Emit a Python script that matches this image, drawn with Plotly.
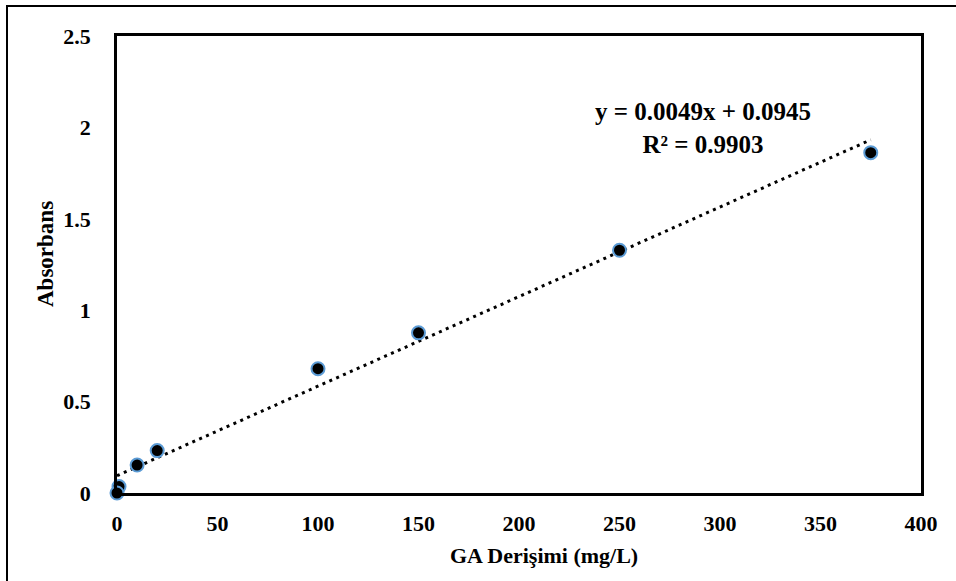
import numpy as np
import plotly.graph_objects as go

# Data
conc = [0, 1, 10, 20, 100, 150, 250, 375]
absorb = [0.0, 0.035, 0.153, 0.232, 0.680, 0.876, 1.328, 1.862]
slope, intercept, r2 = 0.0049, 0.0945, 0.9903
x_ticks = [0, 50, 100, 150, 200, 250, 300, 350, 400]
y_ticks = [0, 0.5, 1, 1.5, 2, 2.5]
y_tick_text = ["0", "0.5", "1", "1.5", "2", "2.5"]

FONT = "Liberation Serif"

fit_x = np.array([0, max(conc)])
fit_y = slope * fit_x + intercept

fig = go.Figure()
fig.add_trace(go.Scatter(
    x=fit_x, y=fit_y, mode="lines",
    line=dict(color="black", width=3, dash="3px,4.5px"),
    hoverinfo="skip", showlegend=False))
fig.add_trace(go.Scatter(
    x=conc[::-1], y=absorb[::-1], mode="markers",
    marker=dict(color="black", size=13, line=dict(color="#5B9BD5", width=2)),
    showlegend=False, cliponaxis=False))

fig.update_layout(
    width=956, height=581,
    margin=dict(l=117, r=35, t=36, b=88),
    paper_bgcolor="white", plot_bgcolor="white",
    font=dict(family=FONT, color="black"),
    xaxis=dict(range=[0, 400], tickvals=x_ticks, showgrid=False, zeroline=False,
               showline=True, linecolor="black", linewidth=2.5, mirror=True,
               ticks="", ticklabelstandoff=9,
               tickfont=dict(family=FONT, size=22, color="black", weight="bold")),
    yaxis=dict(range=[0, 2.5], tickvals=y_ticks, ticktext=y_tick_text,
               showgrid=False, zeroline=False,
               showline=True, linecolor="black", linewidth=2.5, mirror=True,
               ticks="", ticklabelstandoff=19,
               tickfont=dict(family=FONT, size=22, color="black", weight="bold")),
    annotations=[
        dict(text="<b>GA Derişimi (mg/L)</b>", xref="paper", yref="paper",
             x=(544 - 117) / 804, y=(493 - 555) / 457, xanchor="center", yanchor="middle",
             showarrow=False, font=dict(family=FONT, size=22, color="black")),
        dict(text="<b>Absorbans</b>", xref="paper", yref="paper",
             x=(45 - 117) / 804, y=(493 - 254) / 457, xanchor="center", yanchor="middle",
             textangle=-90, showarrow=False, font=dict(family=FONT, size=23, color="black")),
        dict(text=f"<b>y = {slope:.4f}x + {intercept:.4f}<br>R² = {r2:.4f}</b>",
             xref="paper", yref="paper",
             x=(703 - 117) / 804, y=(493 - 128) / 457, xanchor="center", yanchor="middle",
             align="center", showarrow=False,
             font=dict(family=FONT, size=25, color="black")),
    ],
    shapes=[
        dict(type="rect", xref="paper", yref="paper",
             x0=(7 - 117) / 804, x1=2, y0=-1, y1=(493 - 6) / 457,
             line=dict(color="black", width=2), fillcolor="rgba(0,0,0,0)", layer="below"),
    ],
)

fig.write_html("out.html")
